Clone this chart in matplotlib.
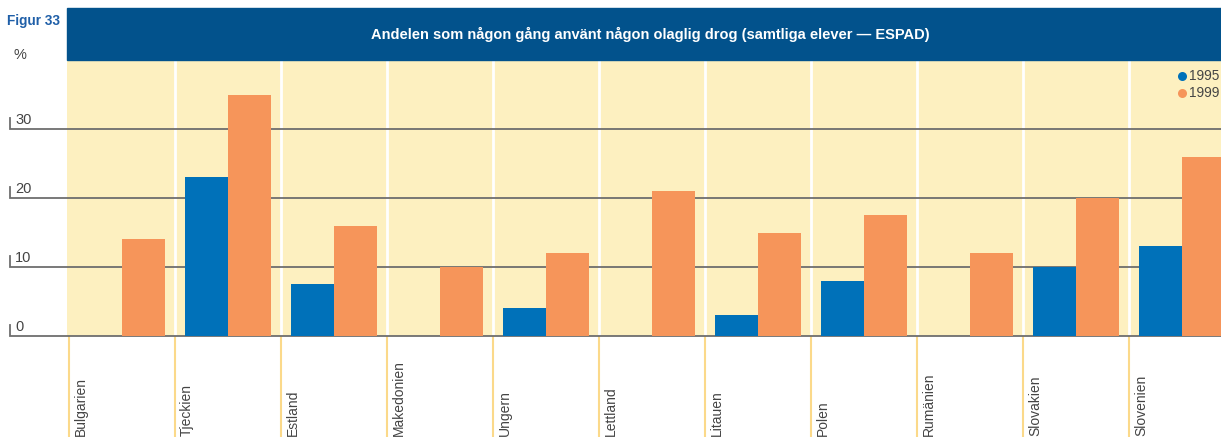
import matplotlib
matplotlib.use('Agg')
import matplotlib.pyplot as plt
from matplotlib.patches import Rectangle

plt.rcParams['font.family'] = ['Liberation Sans', 'DejaVu Sans']

countries = ['Bulgarien', 'Tjeckien', 'Estland', 'Makedonien', 'Ungern', 'Lettland',
             'Litauen', 'Polen', 'Rumänien', 'Slovakien', 'Slovenien']
y1995 = [None, 23, 7.5, None, 4, None, 3, 8, None, 10, 13]
y1999 = [14, 35, 16, 10, 12, 21, 15, 17.5, 12, 20, 26]
yticks = [0, 10, 20, 30]
title = 'Andelen som någon gång använt någon olaglig drog (samtliga elever — ESPAD)'

BLUE = '#0071b9'
ORANGE = '#f6955a'
BG = '#fdf0c0'
NAVY = '#02528c'
GRID = '#6e6e6e'
TXT = '#444444'

W, H = 1221, 437
fig = plt.figure(figsize=(W / 100, H / 100), dpi=100)

def fx(x):
    return x / W

def fy(y):
    return 1 - y / H

# axes: yellow area from x=67..1221, y=60..336
ax = fig.add_axes([fx(67), fy(336), fx(1221) - fx(67), fy(60) - fy(336)])
ax.set_facecolor(BG)
for s in ax.spines.values():
    s.set_visible(False)
ax.set_xticks([])
ax.set_yticks([])

unit = 106.0  # px per group
ax.set_xlim(-2 / unit, (1221 - 69) / unit)
ax.set_ylim(0, 40)
ppu = 276 / 40.0  # px per y unit

bw = 43 / unit
off = 10 / unit
for i, (a, b) in enumerate(zip(y1995, y1999)):
    if a is not None:
        ax.bar(i + off, a, width=bw, align='edge', color=BLUE, zorder=3)
    ax.bar(i + off + bw, b, width=bw, align='edge', color=ORANGE, zorder=3)

# white separators in the plot area
for i in range(1, len(countries)):
    ax.axvline(i, color='white', lw=2, zorder=1)

# gridlines extending to the left with small tick
xl = (10 - 69) / unit
for t in yticks:
    ax.plot([xl, xl, 20], [t + 11 / ppu, t, t], color=GRID, lw=1.3,
            clip_on=False, zorder=2, solid_joinstyle='miter')
    ax.text((15 - 69) / unit, t + 2 / ppu, str(t), fontsize=10.5, color=TXT,
            ha='left', va='bottom')

# light yellow lines below the axis + rotated category labels
ybot = (336 - 437) / ppu
for i, c in enumerate(countries):
    ax.plot([i, i], [-1 / ppu, ybot], color='#fbd98a', lw=1.5, clip_on=False, zorder=1)
    ax.text(i + 5 / unit, (336 - 436) / ppu, c, rotation=90, fontsize=10,
            color=TXT, ha='left', va='bottom')

# legend
for k, (lab, col) in enumerate([('1995', BLUE), ('1999', ORANGE)]):
    yy = 76 + 17 * k
    ax.plot([(1182 - 69) / unit], [(336 - yy) / ppu], 'o', color=col, ms=6.5,
            mec='none', clip_on=False, zorder=4)
    ax.text((1189 - 69) / unit, (336 - yy) / ppu, lab, fontsize=9.8,
            color=TXT, ha='left', va='center')

# title band
fig.patches.append(Rectangle((fx(67), fy(60)), fx(1221) - fx(67), fy(8) - fy(60),
                             transform=fig.transFigure, color=NAVY, zorder=0))
fig.text(fx(650), fy(34), title, color='white', fontsize=10.5, fontweight='bold',
         ha='center', va='center')
fig.text(fx(7), fy(21), 'Figur 33', color='#1f5fa8', fontsize=9.8, fontweight='bold',
         ha='left', va='center')
fig.text(fx(14), fy(55), '%', color=TXT, fontsize=10.5, ha='left', va='center')

fig.savefig('out.png', dpi=100)
